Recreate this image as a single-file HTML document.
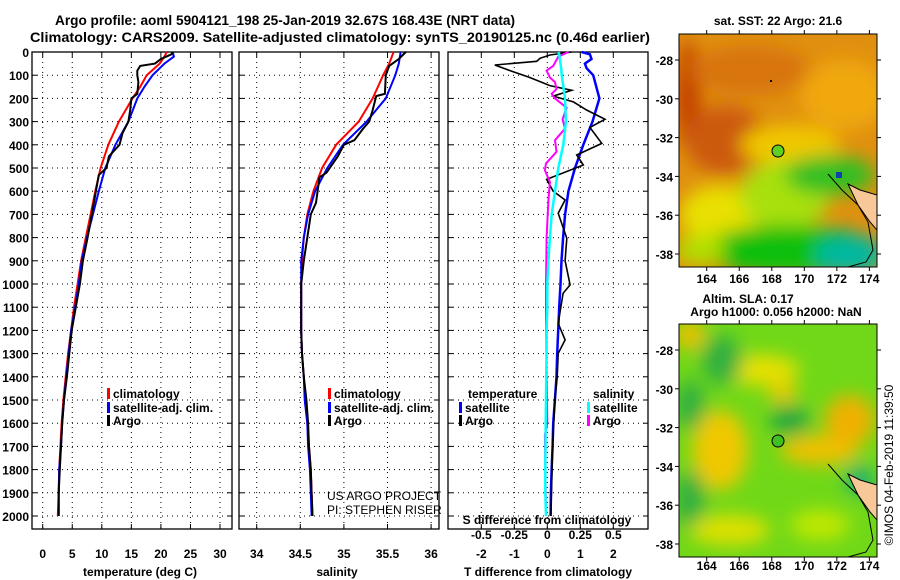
<!DOCTYPE html>
<html><head><meta charset="utf-8"><style>
body{margin:0;background:#fff}
svg{display:block;font-family:"Liberation Sans",sans-serif}
</style></head><body>
<svg id="fig" width="900" height="580" viewBox="0 0 900 580">
<defs>
<filter id="bl" x="-50%" y="-50%" width="200%" height="200%"><feGaussianBlur stdDeviation="9"/></filter>
<clipPath id="c1"><rect x="679" y="34" width="198" height="233"/></clipPath>
<clipPath id="c2"><rect x="679" y="324" width="198" height="233"/></clipPath>
</defs>
<text x="55" y="25" font-size="14" font-weight="bold" textLength="460" lengthAdjust="spacingAndGlyphs">Argo profile: aoml 5904121_198 25-Jan-2019 32.67S 168.43E (NRT data)</text>
<text x="30" y="42" font-size="14" font-weight="bold" textLength="620" lengthAdjust="spacingAndGlyphs">Climatology: CARS2009. Satellite-adjusted climatology: synTS_20190125.nc (0.46d earlier)</text>
<g id="panels"></g>
<!-- Map 1 -->
<g clip-path="url(#c1)">
<rect x="679" y="34" width="198" height="233" fill="#e09010"/>
<g filter="url(#bl)">
<ellipse cx="688" cy="95" rx="12" ry="55" fill="#c23c00"/>
<ellipse cx="725" cy="140" rx="40" ry="35" fill="#cc5a08"/>
<ellipse cx="750" cy="70" rx="60" ry="25" fill="#d87410"/>
<ellipse cx="845" cy="95" rx="45" ry="35" fill="#f0a810"/>
<ellipse cx="790" cy="145" rx="50" ry="20" fill="#f0c800"/>
<ellipse cx="720" cy="215" rx="40" ry="30" fill="#e8e000"/>
<ellipse cx="785" cy="195" rx="45" ry="35" fill="#a8e010"/>
<ellipse cx="830" cy="175" rx="45" ry="20" fill="#30c020"/>
<ellipse cx="790" cy="250" rx="90" ry="25" fill="#10c010"/>
<ellipse cx="700" cy="250" rx="25" ry="15" fill="#b0e000"/>
<ellipse cx="850" cy="255" rx="35" ry="20" fill="#00b8a0"/>
</g>
<rect x="836" y="172" width="6" height="6" fill="#1040b0"/>
<path d="M828 174 L842 190 L858 205 L868 222 L873 250 L866 262 L848 267" fill="none" stroke="#000" stroke-width="1"/>
<path d="M848 184 L860 190 L877 195 L877 230 L870 222 L858 205 Z" fill="#f8c898" stroke="#000" stroke-width="1"/>
<circle cx="778" cy="151" r="6" fill="#60d020" stroke="#000"/>
<rect x="770" y="80" width="2" height="2" fill="#000"/>
</g>
<rect x="679" y="34" width="198" height="233" fill="none" stroke="#000"/>
<text x="778" y="25" font-size="12" font-weight="bold" text-anchor="middle">sat. SST: 22 Argo: 21.6</text>
<!-- Map 2 -->
<g clip-path="url(#c2)">
<rect x="679" y="324" width="198" height="233" fill="#70d818"/>
<g filter="url(#bl)">
<ellipse cx="690" cy="335" rx="15" ry="15" fill="#f0c000"/>
<ellipse cx="760" cy="370" rx="40" ry="15" fill="#e8e000"/>
<ellipse cx="783" cy="393" rx="15" ry="10" fill="#f0c800"/>
<ellipse cx="722" cy="360" rx="20" ry="25" fill="#30b040"/>
<ellipse cx="790" cy="420" rx="20" ry="15" fill="#20a840"/>
<ellipse cx="720" cy="450" rx="28" ry="40" fill="#f0c800"/>
<ellipse cx="690" cy="405" rx="15" ry="25" fill="#30b040"/>
<ellipse cx="820" cy="450" rx="40" ry="15" fill="#f0c000"/>
<ellipse cx="850" cy="420" rx="25" ry="25" fill="#f0b000"/>
<ellipse cx="860" cy="480" rx="15" ry="15" fill="#20b070"/>
<ellipse cx="690" cy="500" rx="15" ry="30" fill="#30b040"/>
<ellipse cx="730" cy="530" rx="40" ry="15" fill="#e0e000"/>
<ellipse cx="820" cy="525" rx="30" ry="15" fill="#c0e800"/>
</g>
<path d="M828 464 L842 480 L858 495 L868 512 L873 540 L866 552 L848 557" fill="none" stroke="#000" stroke-width="1"/>
<path d="M848 474 L860 480 L877 485 L877 520 L870 512 L858 495 Z" fill="#f8c898" stroke="#000" stroke-width="1"/>
<circle cx="778" cy="441" r="6" fill="#40c020" stroke="#000"/>
</g>
<rect x="679" y="324" width="198" height="233" fill="none" stroke="#000"/>
<text x="748" y="303" font-size="12" font-weight="bold" text-anchor="middle">Altim. SLA: 0.17</text>
<text x="776" y="316" font-size="12" font-weight="bold" text-anchor="middle">Argo h1000: 0.056 h2000: NaN</text>
<text transform="translate(893,465) rotate(-90)" font-size="12" text-anchor="middle">©IMOS 04-Feb-2019 11:39:50</text>
<g id="mapaxes"></g>
</svg>
<script>
const NS="http://www.w3.org/2000/svg";
const depthTicks=[0,100,200,300,400,500,600,700,800,900,1000,1100,1200,1300,1400,1500,1600,1700,1800,1900,2000];
const tempTicks=[0,5,10,15,20,25,30];
const salTicks=[34,34.5,35,35.5,36];
const tdiffTicks=[-2,-1,0,1,2];
const sdiffTicks=[-0.5,-0.25,0,0.25,0.5];
const tDepth=[0,20,50,100,150,200,300,400,500,600,700,800,900,1000,1100,1200,1300,1400,1500,1600,1700,1800,1900,2000];
const tClim=[21.0,20.6,19.8,17.6,16.5,15.2,12.9,11.1,9.8,8.9,8.1,7.3,6.5,5.9,5.3,4.8,4.3,3.9,3.5,3.2,3.0,2.8,2.7,2.55];
const tSat=[22.0,22.2,20.6,18.6,17.2,16.0,14.5,12.3,10.6,9.5,8.5,7.5,6.6,6.1,5.5,4.8,4.4,4.0,3.6,3.3,3.1,2.8,2.7,2.7];
const argoTDepth=[0,10,30,50,60,80,100,130,180,200,250,300,350,400,450,500,530,600,700,800,900,1000,1100,1200,1300,1400,1500,1600,1700,1800,1900,2000];
const argoT=[22.0,21.8,20.0,19.0,16.5,16.0,16.0,16.2,16.0,15.0,14.8,14.5,13.5,13.0,11.2,10.8,9.5,9.0,8.3,7.6,6.8,6.3,5.6,4.9,4.5,4.1,3.6,3.3,3.1,2.9,2.7,2.7];
const sDepth=[0,50,100,200,300,400,500,600,700,800,900,1000,1100,1200,1300,1400,1500,1600,1700,1800,1900,2000];
const sClim=[35.57,35.52,35.45,35.33,35.17,34.91,34.75,34.65,34.58,34.54,34.52,34.51,34.51,34.51,34.52,34.54,34.56,34.58,34.60,34.62,34.63,34.64];
const sSat=[35.65,35.63,35.59,35.48,35.26,34.99,34.81,34.67,34.59,34.54,34.51,34.51,34.51,34.51,34.52,34.54,34.55,34.58,34.59,34.61,34.62,34.63];
const argoSDepth=[0,30,60,100,180,190,250,300,330,380,400,450,520,540,650,700,800,900,1000,1100,1200,1300,1400,1500,1600,1700,1800,1900,2000];
const argoS=[35.71,35.63,35.52,35.48,35.47,35.37,35.33,35.29,35.22,35.12,35.0,34.93,34.80,34.72,34.68,34.62,34.58,34.54,34.51,34.51,34.51,34.52,34.54,34.57,34.59,34.60,34.62,34.63,34.64];
const dDepthSat=[0,10,30,50,70,100,200,300,400,500,600,700,800,900,1000,1100,1200,1300,1400,1500,1600,1700,1800,1900,2000];
const tDiffSat=[1.04,1.29,1.34,1.14,1.19,1.39,1.58,1.37,1.09,0.84,0.64,0.54,0.48,0.43,0.40,0.36,0.33,0.30,0.28,0.23,0.18,0.16,0.13,0.11,0.10];
const sDiffSat=[0.083,0.09,0.095,0.1,0.105,0.109,0.134,0.141,0.121,0.083,0.058,0.033,0.02,0.008,0,0,-0.005,-0.006,-0.008,-0.01,-0.012,-0.014,-0.015,-0.015,-0.01];
const dDepthArgoT=[0,13,27,40,56,80,110,145,165,190,215,250,290,325,394,444,487,549,600,638,695,803,900,1004,1040,1170,1241,1299,1400,1500,1700,2000];
const tDiffArgo=[0.74,0.08,-0.22,-0.32,-1.59,-1.13,-0.53,0.08,0.74,0.18,0.79,1.19,1.75,1.29,1.65,0.89,1.09,-0.02,0.18,0.54,0.33,0.59,0.54,0.69,0.48,0.33,0.54,0.33,0.30,0.23,0.16,0.11];
const dDepthArgoS=[0,20,60,80,110,130,160,180,200,240,290,330,380,430,480,510,560,640,800,1000,1150,1600,1650,2000];
const sDiffArgo=[0.16,0.083,0.045,-0.005,0.02,0.058,0.07,0.033,0.058,0.146,0.116,0.134,0.058,0.07,-0.01,-0.018,0.02,0.008,-0.005,-0.01,-0.01,0.0,-0.018,-0.01];

const Y0=52,Y1=529,yD=d=>Y0+d*0.232;
const g=document.getElementById('panels');
function el(tag,attrs,parent){const e=document.createElementNS(NS,tag);for(const k in attrs)e.setAttribute(k,attrs[k]);(parent||g).appendChild(e);return e;}
function txt(x,y,s,attrs){const t=el('text',Object.assign({x:x,y:y,'font-size':12,'font-weight':'bold'},attrs||{}));t.textContent=s;return t;}
function line(xf,vals,depths,color,w,name){
  const pts=vals.map((v,i)=>xf(v).toFixed(1)+','+yD(depths[i]).toFixed(1)).join(' ');
  const p=el('polyline',{points:pts,fill:'none',stroke:color,'stroke-width':w||2});
  
  
}
function panel(x0,x1,xf,xt,labelY,showDepth){
  const fr=el('rect',{x:x0,y:Y0,width:x1-x0,height:Y1-Y0,fill:'none',stroke:'#000','stroke-width':1.3});
  
  
  depthTicks.forEach(d=>{
    el('line',{x1:x0,x2:x1,y1:yD(d),y2:yD(d),stroke:'#000','stroke-dasharray':'1 4','stroke-width':1});
    el('line',{x1:x0,x2:x0+5,y1:yD(d),y2:yD(d),stroke:'#000'});
    el('line',{x1:x1-5,x2:x1,y1:yD(d),y2:yD(d),stroke:'#000'});
    if(showDepth){const t=txt(x0-3,yD(d)+5,String(d),{'text-anchor':'end'});}
  });
  xt.forEach(v=>{
    const x=xf(v);
    el('line',{x1:x,x2:x,y1:Y0,y2:Y1,stroke:'#000','stroke-dasharray':'1 4','stroke-width':1});
    el('line',{x1:x,x2:x,y1:Y0,y2:Y0+5,stroke:'#000'});
    el('line',{x1:x,x2:x,y1:Y1-5,y2:Y1,stroke:'#000'});
    if(labelY){const t=txt(x,labelY,String(v),{'text-anchor':'middle'});}
  });
}
const xT=v=>42.7+v*5.91, xS=v=>256.7+(v-34)*87.2, xTD=v=>547.3+v*33, xSD=v=>547.3+v*132;
panel(32,232,xT,tempTicks,558,true);
panel(239,439,xS,salTicks,558,false);
panel(448,648,xTD,tdiffTicks,558,false);
txt(140,576,'temperature (deg C)',{'text-anchor':'middle',});
txt(337,576,'salinity',{'text-anchor':'middle',});
txt(548,576,'T difference from climatology',{'text-anchor':'middle',});
txt(547,524,'S difference from climatology',{'text-anchor':'middle',});
sdiffTicks.forEach(v=>{const t=txt(xSD(v),539,String(v),{'text-anchor':'middle'});});
line(xT,tClim,tDepth,'#f00',2,'temp-climatology-line');
line(xT,tSat,tDepth,'#00f',2,'temp-satellite-line');
line(xT,argoT,argoTDepth,'#000',2,'temp-argo-line');
line(xS,sClim,sDepth,'#f00',2,'sal-climatology-line');
line(xS,sSat,sDepth,'#00f',2,'sal-satellite-line');
line(xS,argoS,argoSDepth,'#000',2,'sal-argo-line');
line(xTD,tDiffSat,dDepthSat,'#00f',2.5,'tdiff-satellite-line');
line(xTD,tDiffArgo,dDepthArgoT,'#000',1.6,'tdiff-argo-line');
line(xSD,sDiffArgo,dDepthArgoS,'#f0f',2,'sdiff-argo-line');
line(xSD,sDiffSat,dDepthSat,'#0ff',2.5,'sdiff-satellite-line');
function leg(x,y,color,label,name){
  el('rect',{x:x,y:y-10,width:3,height:11,fill:color});
  const t=txt(x+6,y,label,{});
}
leg(107,398,'#f00','climatology','legend-climatology');
leg(107,412,'#00f','satellite-adj. clim.','legend-satellite');
leg(107,425,'#000','Argo','legend-argo');
leg(328,398,'#f00','climatology','legend-climatology-2');
leg(328,412,'#00f','satellite-adj. clim.','legend-satellite-2');
leg(328,425,'#000','Argo','legend-argo-2');
txt(468,398,'temperature',{});
leg(459,412,'#00f','satellite','legend-tdiff-satellite');
leg(459,425,'#000','Argo','legend-tdiff-argo');
txt(593,398,'salinity',{});
leg(587,412,'#0ff','satellite','legend-sdiff-satellite');
leg(587,425,'#f0f','Argo','legend-sdiff-argo');
txt(327,500,'US ARGO PROJECT',{'font-weight':'normal',});
txt(327,514,'PI: STEPHEN RISER',{'font-weight':'normal',});
const ma=document.getElementById('mapaxes');
const lonTicks=[164,166,168,170,172,174];
const latTicks=[-28,-30,-32,-34,-36,-38];
[[34,283,60],[324,570,350]].forEach(([top,ly,lat28])=>{
  lonTicks.forEach(l=>{
    const x=706.7+(l-164)*16.27;
    el('line',{x1:x,x2:x,y1:top-4,y2:top,stroke:'#000'},ma);
    el('line',{x1:x,x2:x,y1:top+233,y2:top+237,stroke:'#000'},ma);
    const t=txt(x,ly,String(l),{'text-anchor':'middle'});ma.appendChild(t);
    
  });
  latTicks.forEach(l=>{
    const y=lat28+(-28-l)*19.4;
    el('line',{x1:675,x2:679,y1:y,y2:y,stroke:'#000'},ma);
    el('line',{x1:877,x2:881,y1:y,y2:y,stroke:'#000'},ma);
    const t=txt(673,y+5,String(l),{'text-anchor':'end'});ma.appendChild(t);
    
  });
});
</script>
</body></html>
